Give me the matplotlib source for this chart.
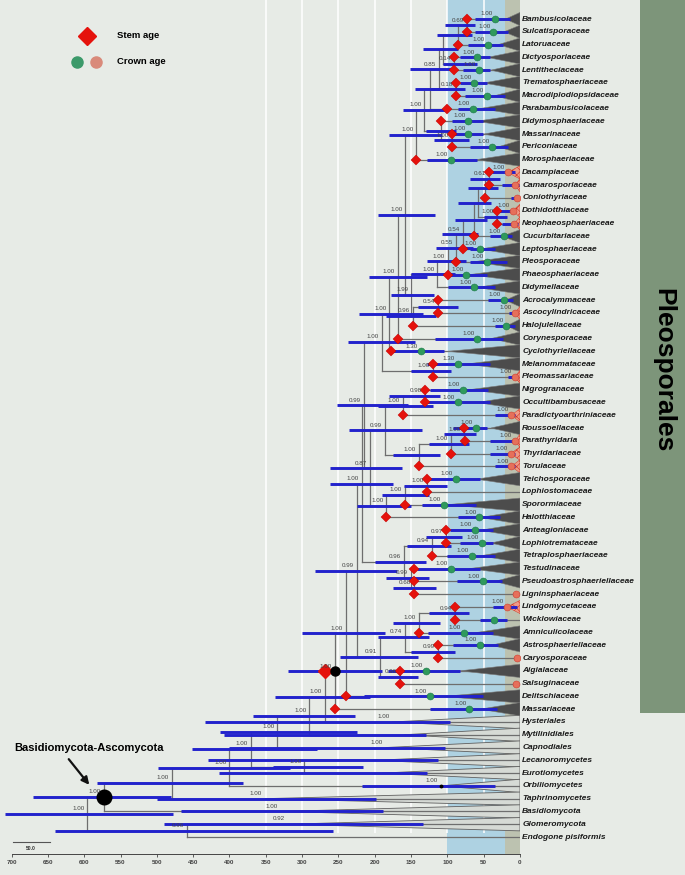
import numpy as np
import matplotlib
matplotlib.use('Agg')
import matplotlib.pyplot as plt
from matplotlib.patches import Polygon, Rectangle

plt.rcParams['font.family'] = ['Liberation Sans', 'DejaVu Sans']
plt.rcParams['hatch.linewidth'] = 0.4

# Tip taxa, top to bottom
taxa = ['Bambusicolaceae', 'Sulcatisporaceae', 'Latoruaceae', 'Dictyosporiaceae', 'Lentitheciaceae',
        'Trematosphaeriaceae', 'Macrodiplodiopsidaceae', 'Parabambusicolaceae', 'Didymosphaeriaceae',
        'Massarinaceae', 'Periconiaceae', 'Morosphaeriaceae', 'Dacampiaceae', 'Camarosporiaceae',
        'Coniothyriaceae', 'Dothidotthiaceae', 'Neophaeosphaeriaceae', 'Cucurbitariaceae',
        'Leptosphaeriaceae', 'Pleosporaceae', 'Phaeosphaeriaceae', 'Didymellaceae', 'Acrocalymmaceae',
        'Ascocylindricaceae', 'Halojulellaceae', 'Corynesporaceae', 'Cyclothyriellaceae',
        'Melanommataceae', 'Pleomassariaceae', 'Nigrogranaceae', 'Occultibambusaceae',
        'Paradictyoarthriniaceae', 'Roussoellaceae', 'Parathyridaria', 'Thyridariaceae', 'Torulaceae',
        'Teichosporaceae', 'Lophiostomaceae', 'Sporormiaceae', 'Halotthiaceae', 'Anteagloniaceae',
        'Lophiotremataceae', 'Tetraplosphaeriaceae', 'Testudinaceae', 'Pseudoastrosphaeriellaceae',
        'Ligninsphaeriaceae', 'Lindgomycetaceae', 'Wicklowiaceae', 'Amniculicolaceae',
        'Astrosphaeriellaceae', 'Caryosporaceae', 'Aigialaceae', 'Salsuginaceae', 'Delitschiaceae',
        'Massariaceae', 'Hysteriales', 'Mytilinidiales', 'Capnodiales', 'Lecanoromycetes',
        'Eurotiomycetes', 'Orbiliomycetes', 'Taphrinomycetes', 'Basidiomycota', 'Glomeromycota',
        'Endogone pisiformis']

# stem ages (red diamonds), Ma
stem_age = [73, 73, 85, 91, 91, 88, 88, 101, 109, 94, 94, 143,
            43, 42, 48, 32, 32, 63, 79, 88, 99, None,
            113, 113, 147, 168, 178, 120, 120, 131, 131, 161,
            77, 76, 95, 139, 128, 128, 159, 184,
            102, 102, 121, 146, 146, 146,
            90, 90, 139, 113, 113, 165, 165, 240, 255,
            None, None, None, None, None, None, None, None, None, None]

# crown ages, kind (g = green, r = red, o = outgroup clade)
crown_age = [34, 37, 44, 59, 57, 63, 46, 65, 71, 71, 38, 95,
             17, 7, 4, 10, 8, 22, 55, 46, 74, 63,
             22, 7, 19, 59, 137, 86, 7, 79, 86, 12,
             61, 7, 13, 12, 88, None, 105, 56,
             62, 53, 66, 95, 51, 5,
             18, 36, 77, 55, 4, 130, 5, 124, 70,
             176, 160, 185, 200, 190, 109, 351, 330, 320, None]
crown_kind = list('gggggggggggg' 'rrrrrggggg' 'grggggrggr' 'grrrg' ' ggg' 'ggggr' 'rgggrgrgg'
                  'ooooooooo ')
crown_old = [62, 62, 72, 83, 79, 83, 76, 85, 94, 92, 69, 128,
             39, 25, 12, 30, 25, 41, 69, 69, 97, 99,
             44, 15, 34, 117, 180, 128, 17, 124, 130, 34,
             92, 41, 41, 34, 127, None, 135, 85,
             96, 83, 101, 142, 87, 9,
             37, 55, 127, 92, 8, 182, 9, 215, 124,
             434, 408, 400, 430, 415, 218, 500, 467, 490, None]
crown_young = [14, 16, 23, 41, 41, 46, 21, 34, 51, 51, 17, 59,
               7, 2, 1, 7, 3, 11, 34, 18, 46, 34,
               9, 3, 7, 23, 105, 41, 3, 44, 41, 7,
               46, 7, 7, 7, 55, None, 60, 28,
               37, 37, 34, 55, 25, 2,
               4, 18, 37, 30, 1, 83, 1, 51, 32,
               96, 130, 103, 113, 128, 34, 198, 189, 133, None]
crown_post = ['1.00'] * 12 + ['1.00', '', '', '1.00', '', '1.00', '1.00', '1.00', '1.00', '1.00',
              '1.00', '1.00', '1.00', '1.00', '1.30', '1.30', '1.00', '1.00', '1.00', '1.00',
              '1.00', '1.00', '1.00', '1.00', '1.00', '', '1.00', '1.00',
              '1.00', '1.00', '1.00', '1.00', '1.00', '',
              '1.00', '', '1.00', '1.00', '', '1.00', '', '1.00', '1.00',
              '1.00', '', '1.00', '', '', '1.00', '1.00', '1.00', '0.92', '']
# age where the collapsed-clade wedge starts
tri_apex = [20, 22, 30, 45, 40, 50, 35, 55, 60, 50, 30, 60,
            17, 7, None, 10, 8, 25, 55, 65, 70, 60,
            20, 7, 18, 40, 100, 75, 7, 70, 60, 12,
            40, 7, 13, 12, 60, None, 101, 55,
            55, 40, 55, 70, 35, None,
            18, None, 60, 40, None, 83, None, 106, 55,
            176, 160, 185, 200, 190, 109, 351, 330, 320, None]

# internal nodes (children listed before parents)
node_name = ['a1', 'a2', 'a3', 'a4', 'a5', 'a6', 'a9', 'a7', 'a8', 'a10', 'a11',
             'b1', 'b2', 'b3', 'b4', 'b5', 'b6', 'b7', 'b8', 'b9', 'c1', 'c2', 'B2', 'AB', 'ABC',
             'W1', 'm1', 'W2', 'n1', 'n2', 'o1', 'o2', 'o3', 'n3', 's1', 's2', 's3', 'X1', 'X2',
             't1', 't2', 't3', 't4', 't5', 'V', 'q1', 'q2', 'q3', 'q4', 'q5', 'q6',
             'Pc', 'Pa', 'Pb', 'D1', 'D2', 'D3', 'L', 'D4', 'D5', 'Asco', 'Dik', 'GE', 'root']
node_kids = [(0, 1), ('a1', 2), (3, 4), ('a2', 'a3'), (5, 6), ('a4', 'a5'), ('a6', 7), (9, 10),
             (8, 'a7'), ('a9', 'a8'), ('a10', 11),
             (12, 13), ('b1', 14), (15, 16), ('b2', 'b3'), ('b4', 17), ('b5', 18), ('b6', 19),
             ('b7', 20), ('b8', 21), (22, 23), ('c1', 24), ('b9', 'c2'), ('a11', 'B2'), ('AB', 25),
             ('ABC', 26), (27, 28), ('W1', 'm1'), (29, 30), ('n1', 31), (32, 33), ('o1', 34),
             ('o2', 35), ('n2', 'o3'), (36, 37), ('s1', 38), ('s2', 39), ('n3', 's3'), ('W2', 'X1'),
             (40, 41), ('t1', 42), (44, 45), (43, 't3'), ('t2', 't4'), ('X2', 't5'),
             (46, 47), ('q1', 48), (49, 50), ('q2', 'q3'), (51, 52), ('q4', 'q5'),
             ('V', 'q6'), ('Pc', 53), ('Pa', 54), ('Pb', 55), ('D1', 56), ('D2', 57), (58, 59),
             ('D3', 'L'), ('D4', 60), ('D5', 61), ('Asco', 62), (63, 64), ('Dik', 'GE')]
node_age = [73, 85, 91, 106, 88, 112, 124, 94, 109, 132, 143,
            43, 48, 32, 58, 63, 79, 88, 99, 114, 113, 147, 150, 158, 168,
            180, 120, 190, 131, 161, 77, 95, 139, 186, 128, 159, 184, 207, 215,
            102, 121, 146, 150, 160, 218, 90, 139, 113, 158, 165, 193,
            225, 240, 255, 269, 290, 334, 297, 371, 400, 479, 573, 459, 596]
node_old = [103, 114, 106, 134, 122, 151, 145, 118, 130, 161, 180,
            69, 72, 50, 85, 90, 108, 115, 128, 150, 140, 185, 178, 196, 208,
            222, 150, 237, 180, 195, 105, 125, 175, 235, 160, 190, 225, 262, 252,
            130, 155, 175, 185, 200, 262, 125, 175, 150, 195, 195, 248,
            282, 300, 320, 337, 368, 413, 340, 452, 499, 583, 670, 640, 709]
node_young = [62, 66, 59, 85, 76, 90, 100, 70, 88, 103, 107,
              27, 30, 18, 40, 45, 58, 65, 75, 90, 85, 115, 118, 117, 128,
              134, 95, 145, 110, 120, 60, 70, 110, 135, 100, 125, 150, 162, 154,
              80, 95, 115, 125, 130, 175, 70, 110, 90, 125, 140, 140,
              169, 186, 190, 207, 227, 225, 216, 280, 317, 381, 480, 258, 478]
node_post = ['0.69', '', '0.14', '', '0.18', '0.85', '', '1.00', '', '1.00', '1.00',
             '0.61', '', '1.00', '', '', '0.54', '0.55', '1.00', '1.00', '0.54', '0.96', '1.99',
             '1.00', '1.00', '1.00', '1.00', '1.00', '0.98', '1.00', '1.00', '1.00', '1.00', '0.99',
             '1.00', '1.00', '1.00', '0.87', '0.99', '0.97', '0.94', '0.68', '0.99', '0.96', '1.00',
             '0.94', '1.00', '0.99', '0.74', '0.96', '0.91', '0.99', '1.00', '1.00', '1.00', '1.00',
             '1.00', '1.00', '1.00', '1.00', '1.00', '1.00', '0.96', '1.00']

bg = '#e7ebe6'
blue = '#2222cc'
branch_c = '#6e6e6e'

fig = plt.figure(figsize=(6.85, 8.75), dpi=100)
fig.patch.set_facecolor(bg)
ax = fig.add_axes([0, 21 / 875, 520 / 685, 854 / 875])
ax.set_facecolor(bg)
ax.set_xlim(716, 0)
ax.set_ylim(65.33, -1.49)

# time bands and grid
ax.axvspan(100, 20, color='#aed2e2', zorder=0, lw=0)
ax.axvspan(20, 0, color='#bcc2b0', zorder=0, lw=0)
ax.vlines([350, 300, 250, 200, 150, 100, 50], -1.5, 63.7, color='white', lw=1.1, zorder=1)

# positions
ypos = {i: float(i) for i in range(len(taxa))}
agepos = {i: 0.0 for i in range(len(taxa))}
for name, kids, a in zip(node_name, node_kids, node_age):
    ypos[name] = np.mean([ypos[k] for k in kids])
    agepos[name] = a

# branches
for name, kids, a in zip(node_name, node_kids, node_age):
    ys = [ypos[k] for k in kids]
    ax.plot([a, a], [min(ys), max(ys)], color=branch_c, lw=0.9, zorder=3)
    for k in kids:
        ax.plot([a, agepos[k]], [ypos[k], ypos[k]], color=branch_c, lw=0.9, zorder=3)

# collapsed clades
for i, ap in enumerate(tri_apex):
    if ap is None:
        continue
    pts = [(ap, i), (0, i - 0.52), (0, i + 0.52)]
    if crown_kind[i] == 'o':
        ax.add_patch(Polygon(pts, closed=True, fc='#d6dad5', ec='#606060', lw=0.6, zorder=2))
    elif crown_kind[i] == 'r':
        ax.add_patch(Polygon(pts, closed=True, fc='#ee9a86', ec='#d0301e', lw=0.3,
                             hatch='xxxx', zorder=3.5))
    else:
        ax.add_patch(Polygon(pts, closed=True, fc='#4c4c4c', ec='#7a7a7a', lw=0.4, zorder=3.5))

# node HPD bars and posteriors
for name, o, yv, p in zip(node_name, node_old, node_young, node_post):
    y = ypos[name]
    ax.hlines(y, o, yv, color=blue, lw=2.1, zorder=4)
    if p:
        ax.text(agepos[name] + 4, y - 0.22, p, fontsize=4.5, color='#444444',
                ha='right', va='bottom', zorder=6)

# crown HPD bars, markers and posteriors
for i in range(len(taxa)):
    c = crown_age[i]
    if c is None:
        continue
    ax.hlines(i, crown_old[i], crown_young[i], color=blue, lw=2.1, zorder=4)
    if crown_kind[i] == 'g':
        ax.plot(c, i, 'o', ms=5, color='#2f9a5c', mec='#1f7a48', mew=0.4, zorder=5)
    elif crown_kind[i] == 'r':
        ax.plot(c, i, 'o', ms=5, color='#e6705a', mec='#d04030', mew=0.4, zorder=5)
    if crown_post[i]:
        ax.text(c + 4, i - 0.22, crown_post[i], fontsize=4.5, color='#444444',
                ha='right', va='bottom', zorder=6)

ax.plot(crown_age[60], 60, 'o', ms=1.8, color='black', zorder=5)

for i, s in enumerate(stem_age):
    if s is not None:
        ax.plot(s, i, 'D', ms=5.6, color='#e5120c', mec='#c00000', mew=0.3, zorder=5)

# Pleosporales stem / crown and Basidiomycota-Ascomycota split
ax.plot(agepos['D1'], ypos['Pb'], 'D', ms=7.5, color='#e5120c', zorder=5)
ax.plot(agepos['Pb'], ypos['Pb'], 'o', ms=6.5, color='black', zorder=5)
ax.plot(agepos['Dik'], ypos['Dik'], 'o', ms=10.5, color='black', zorder=5)

# tip labels
for i, t in enumerate(taxa):
    ax.text(-3, i, t, fontsize=6, fontweight='bold', style='italic', color='#1a1a1a',
            ha='left', va='center', clip_on=False, zorder=6)

# axis
for s in ['top', 'left', 'right']:
    ax.spines[s].set_visible(False)
ax.spines['bottom'].set_bounds(0, 700)
ax.spines['bottom'].set_color('#444444')
ax.spines['bottom'].set_linewidth(0.7)
ax.set_xticks(np.arange(0, 701, 50))
ax.set_xticklabels([str(v) for v in range(0, 701, 50)], fontsize=4.5, fontweight='bold', color='#333333')
ax.tick_params(axis='x', length=2, width=0.6, pad=2, colors='#444444')
ax.tick_params(axis='y', left=False, labelleft=False)

# overlay in pixel coordinates for legend and annotations
ov = fig.add_axes([0, 0, 1, 1], facecolor='none')
ov.set_xlim(0, 685)
ov.set_ylim(875, 0)
ov.axis('off')
ov.add_patch(Rectangle((640, 0), 45, 713, fc='#7d957a', ec='none', zorder=1))
ov.text(663, 370, 'Pleosporales', rotation=-90, fontsize=19, fontweight='bold',
        ha='center', va='center', color='black', zorder=2)

ov.plot(87, 36, 'D', ms=9, color='#e5120c', zorder=2)
ov.text(117, 36, 'Stem age', fontsize=6.8, fontweight='bold', va='center', ha='left')
ov.plot(77, 62, 'o', ms=8, color='#3c9a6a', zorder=2)
ov.plot(96, 62, 'o', ms=8, color='#d98a7a', zorder=2)
ov.text(117, 62, 'Crown age', fontsize=6.8, fontweight='bold', va='center', ha='left')

ov.text(14, 748, 'Basidiomycota-Ascomycota', fontsize=8, fontweight='bold', va='center', ha='left')
ov.annotate('', xy=(91, 787), xytext=(67, 757),
            arrowprops=dict(arrowstyle='-|>', color='#111111', lw=1.6, mutation_scale=11))

ov.plot([13, 50], [842, 842], color='#555555', lw=0.8)
ov.text(31, 849, '50.0', fontsize=3.6, fontweight='bold', ha='center', va='center', color='#333333')

fig.savefig('out.png', dpi=100, facecolor=bg)
